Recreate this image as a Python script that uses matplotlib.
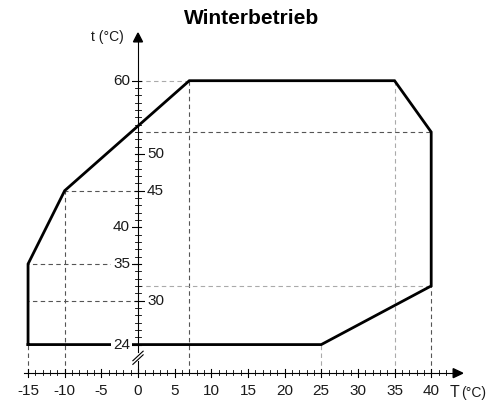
import matplotlib
matplotlib.use("Agg")
import matplotlib.pyplot as plt
from matplotlib.patches import Polygon

plt.rcParams['font.family'] = ['Liberation Sans', 'DejaVu Sans']

# ---- data ----
env_T = [-15, -15, -10, 7, 35, 40, 40, 25, -15]
env_t = [24, 35, 45, 60, 60, 53, 32, 24, 24]

x_ticks = [-15, -10, -5, 0, 5, 10, 15, 20, 25, 30, 35, 40]
y_ticks_left = [24, 35, 40, 60]
y_ticks_right = [30, 45, 50]

# guide lines: (T, t) vertex, colour key
vguides = [(-15, 24, 'd'), (-10, 45, 'd'), (7, 60, 'd'), (25, 24, 'l'), (35, 60, 'l'), (40, 32, 'd')]
hguides = [(-15, 35, 'd'), (-15, 30, 'd'), (-10, 45, 'd'), (7, 60, 'l'), (40, 53, 'd'), (40, 32, 'l')]

# ---- figure ----
W, H = 501, 405
fig = plt.figure(figsize=(W / 100, H / 100), dpi=100)
ax = fig.add_axes([0, 0, 1, 1])
ax.set_axis_off()

scale = 7.33          # pixels per unit
x0px, y60px = 138.0, 80.7
ax.set_xlim(-x0px / scale, (W - x0px) / scale)
ax.set_ylim(60 - (H - y60px) / scale, 60 + y60px / scale)
px = 1.0 / scale      # one pixel in data units

t_axis = 20.1         # where the T axis is drawn (broken scale)
dark, light = '#555555', '#aaaaaa'
cols = {'d': dark, 'l': light}
dash = dict(lw=0.8, dashes=(4, 3))
tc = '#1a1a1a'

for T, t, c in vguides:
    ax.plot([T, T], [t_axis, t], color=cols[c], **dash, zorder=1)
for T, t, c in hguides:
    ax.plot([0, T], [t, t], color=cols[c], **dash, zorder=1)

# axes lines
ax.plot([-15.5, 43.2], [t_axis, t_axis], color='black', lw=0.8, zorder=3)
ax.plot([0, 0], [23.0, 65.5], color='black', lw=0.8, zorder=3)
ax.plot([0, 0], [t_axis, 21.7], color='black', lw=0.8, zorder=3)
# break marks
for off in [0.0, 0.5]:
    ax.plot([-0.7, 0.7], [21.3 + off, 22.6 + off], color='black', lw=0.8, zorder=4)
# arrows
ax.add_patch(Polygon([[43.0, t_axis - 4.5 * px], [44.3, t_axis], [43.0, t_axis + 4.5 * px]],
                     closed=True, color='black', zorder=4))
ax.add_patch(Polygon([[-4.5 * px, 65.3], [0, 66.5], [4.5 * px, 65.3]],
                     closed=True, color='black', zorder=4))

# x ticks
for v in range(-15, 43):
    if v % 5 == 0:
        ax.plot([v, v], [t_axis - 4 * px, t_axis + 4 * px], color='black', lw=0.8, zorder=3)
    else:
        ax.plot([v, v], [t_axis - 2 * px, t_axis + 3 * px], color='black', lw=0.6, zorder=3)
for v in x_ticks:
    ax.text(v, t_axis - 18 * px, str(v), ha='center', va='center', fontsize=11, color=tc)

# y ticks
for v in range(24, 61):
    ax.plot([-3 * px, 3 * px], [v, v], color='black', lw=0.6, zorder=3)
for v in y_ticks_left:
    ax.plot([-6 * px, 3 * px], [v, v], color='black', lw=0.8, zorder=3)
    ax.text(-8 * px, v, str(v), ha='right', va='center', fontsize=11, color=tc,
            bbox=dict(boxstyle='square,pad=0.1', fc='white', ec='none'), zorder=5)
for v in y_ticks_right:
    ax.plot([-3 * px, 6 * px], [v, v], color='black', lw=0.8, zorder=3)
    ax.text(9 * px, v, str(v), ha='left', va='center', fontsize=11, color=tc,
            bbox=dict(boxstyle='square,pad=0.1', fc='white', ec='none'), zorder=5)

# envelope
ax.plot(env_T, env_t, color='black', lw=2.0, solid_joinstyle='miter', zorder=4)

# labels
ax.text(-14 * px, 65.95, 't (°C)', ha='right', va='center', fontsize=10, color=tc)
ax.text((450 - x0px) * px, t_axis - 19 * px, 'T', ha='left', va='center',
        fontsize=11.5, color=tc)
ax.text((461 - x0px) * px, t_axis - 20 * px, '(°C)', ha='left', va='center',
        fontsize=10, color=tc)
fig.text(252 / W, 1 - 18 / H, 'Winterbetrieb', ha='center', va='center', fontsize=15, fontweight='bold')

fig.savefig('out.png', dpi=100)
